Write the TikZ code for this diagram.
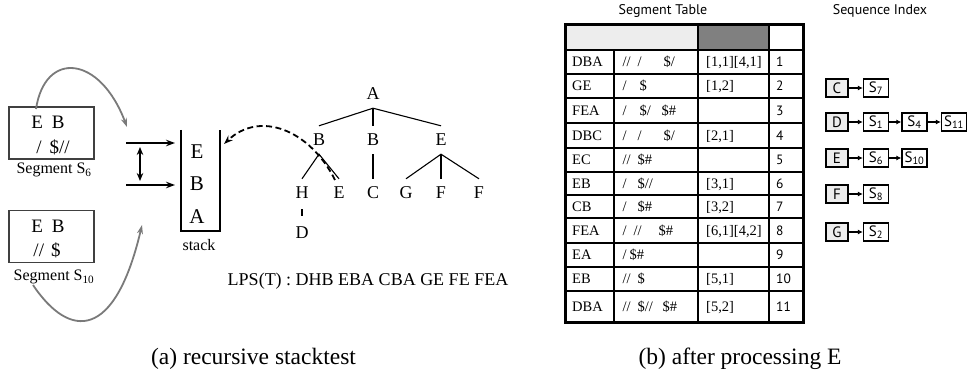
\documentclass[tikz,border=0pt]{standalone}
\usepackage{fontspec}
\setmainfont{Liberation Serif}
\newfontfamily\sansf{PT Sans}
\usetikzlibrary{arrows.meta}
% font size shortcut
\newcommand\fz[1]{\fontsize{#1}{#1}\selectfont}
% place a token at a horizontal offset from the start of a cell
\newcommand\tok[2]{\makebox[0pt][l]{\hspace*{#1pt}#2}}
\tikzset{
  treenode/.style={font=\fz{18}, inner sep=0pt, minimum height=28pt},
  treeline/.style={line width=1.1pt},
  grayarc/.style={draw=black!52, line width=1.8pt, -{Stealth[length=9pt,width=6pt]}},
  blackarrow/.style={line width=1.5pt, -{Stealth[length=9pt,width=6.5pt]}},
  dasharrow/.style={line width=1.8pt, dash pattern=on 6pt off 3.5pt, -{Stealth[length=9pt,width=6.5pt]}},
  segbox/.style={draw=black!75, line width=1.1pt, minimum width=85pt, minimum height=52pt, inner sep=0pt},
  segtext/.style={font=\fz{19}, inner sep=0pt},
  cell/.style={font=\fz{14.5}, anchor=base west, inner sep=0pt},
  num/.style={font=\sansf\fz{13.5}, anchor=base west, inner sep=0pt},
  keybox/.style={draw, line width=1.3pt, fill=black!7, minimum width=22pt, minimum height=18pt, inner sep=0pt, font=\sansf\fz{15}},
  sbox/.style={draw, line width=1.3pt, fill=white, minimum width=25pt, minimum height=18pt, inner sep=0pt, font=\sansf\fz{15}},
  idxarrow/.style={line width=1.3pt, -{Latex[length=5pt,width=5pt]}},
  caption/.style={font=\fz{23.5}, inner sep=0pt}
}
\begin{document}
\begin{tikzpicture}[x=1pt,y=-1pt]
\useasboundingbox (0,0) rectangle (967,379);

% ---------- (a) segments ----------
\node[segbox] (seg6) at (51.5,133) {};
\node[segtext] (s6a) at (48,122) {E\hspace{9pt}B};
\node[segtext] (s6b) at (53,147) {/\hspace{8pt}\$//};
\node[font=\fz{16}, inner sep=0pt] (lab6) at (54,170) {Segment S\textsubscript{6}};

\node[segbox] (seg10) at (51.5,236.5) {};
\node[segtext] (s10a) at (48,226) {E\hspace{9pt}B};
\node[segtext] (s10b) at (47,250) {//\hspace{7pt}\$};
\node[font=\fz{16}, inner sep=0pt] (lab10) at (54,277) {Segment S\textsubscript{10}};

% gray arcs from the segments towards the stack
\coordinate (u0) at (36,109);
\coordinate (u1) at (127,127);
\coordinate (l0) at (33,285);
\coordinate (l1) at (142,225);
\draw[grayarc] (u0) .. controls (45,50) and (100,55) .. (u1);
\draw[grayarc] (l0) .. controls (70,340) and (115,340) .. (l1);

% push arrows
\coordinate (h1s) at (126,143);
\coordinate (h1e) at (175,143);
\coordinate (h2s) at (126,185);
\coordinate (h2e) at (175,185);
\draw[blackarrow] (h1s) -- (h1e);
\draw[blackarrow] (h2s) -- (h2e);
\coordinate (v1) at (140,147);
\coordinate (v2) at (140,181);
\draw[line width=1.5pt, {Stealth[length=8pt,width=6.5pt]}-{Stealth[length=8pt,width=6.5pt]}] (v1) -- (v2);

% stack
\draw[line width=1.1pt] (181,130) -- (181,231) -- (220,231) -- (220,130);
\node[font=\fz{21}, inner sep=0pt] (stE) at (197,152) {E};
\node[font=\fz{21}, inner sep=0pt] (stB) at (197,184) {B};
\node[font=\fz{21}, inner sep=0pt] (stA) at (197,217) {A};
\node[font=\fz{16}, inner sep=0pt] (stk) at (199,245) {stack};

% ---------- tree ----------
\node[treenode] (tA)  at (373,94)  {A};
\node[treenode] (tB1) at (319,140) {B};
\node[treenode] (tB2) at (373,140) {B};
\node[treenode] (tE1) at (441,140) {E};
\node[treenode] (tH)  at (302,193) {H};
\node[treenode] (tE2) at (339,193) {E};
\node[treenode] (tC)  at (373,193) {C};
\node[treenode] (tG)  at (406,193) {G};
\node[treenode] (tF1) at (441,193) {F};
\node[treenode] (tF2) at (479,193) {F};
\node[treenode] (tD)  at (302,233) {D};
\draw[treeline] (tB1.north) -- (tA.south) -- (tE1.north);
\draw[treeline] (tA.south) -- (tB2.north);
\draw[treeline] (tH.north) -- (tB1.south) -- (tE2.north);
\draw[treeline] (tB2.south) -- (tC.north);
\draw[treeline] (tG.north) -- (tE1.south) -- (tF2.north);
\draw[treeline] (tE1.south) -- (tF1.north);
\draw[treeline] ([yshift=-2pt]tH.south) -- ([yshift=3pt]tD.north);

% dashed return to the stack
\coordinate (d0) at (335,180);
\coordinate (d1) at (224,144);
\draw[dasharrow] (d0) .. controls (310,130) and (260,110) .. (d1);

\node[font=\fz{18}, inner sep=0pt] (lps) at (368,281) {LPS(T) : DHB EBA CBA GE FE FEA};

% ---------- (b) segment table ----------
\node[font=\sansf\fz{14}, inner sep=0pt] (ttl) at (663,11) {Segment Table};
\fill[black!7]  (565,25) rectangle (698,50);
\fill[black!50] (698,25) rectangle (769,50);
\foreach \yy in {50,74,98,123,148,172,195,218,243,267,291}
  \draw[line width=1.6pt] (565,\yy) -- (803,\yy);
\draw[line width=1.6pt] (614,50) -- (614,323);
\foreach \xx in {698,769}
  \draw[line width=1.6pt] (\xx,25) -- (\xx,323);
\draw[line width=3pt] (565,25) rectangle (803,323);

\foreach \yc/\ka/\kb/\kc [count=\i] in {
  62/DBA/{\tok{0}{//}\tok{15}{/}\tok{41}{\$/}}/{[1,1][4,1]},
  86/GE/{\tok{0}{/}\tok{17}{\$}}/{[1,2]},
  110.5/FEA/{\tok{0}{/}\tok{17}{\$/}\tok{39}{\$\#}}/{},
  135.5/DBC/{\tok{0}{/}\tok{15}{/}\tok{41}{\$/}}/{[2,1]},
  160/EC/{\tok{0}{//}\tok{15}{\$\#}}/{},
  183.5/EB/{\tok{0}{/}\tok{15}{\$//}}/{[3,1]},
  206.5/CB/{\tok{0}{/}\tok{15}{\$\#}}/{[3,2]},
  230.5/FEA/{\tok{0}{/}\tok{11}{//}\tok{36}{\$\#}}/{[6,1][4,2]},
  255/EA/{\tok{0}{/}\tok{7}{\$\#}}/{},
  279/EB/{\tok{0}{//}\tok{15}{\$}}/{[5,1]},
  307/DBA/{\tok{0}{//}\tok{15}{\$//}\tok{40}{\$\#}}/{[5,2]}}
{
  \node[cell] (ka\i) at (572,\yc+5) {\ka};
  \node[cell] (kb\i) at (622,\yc+5) {\kb};
  \node[cell] (kc\i) at (706,\yc+5) {\kc};
  \node[num]  (kn\i) at (776,\yc+5) {\i};
}

% ---------- (b) sequence index ----------
\node[font=\sansf\fz{14}, inner sep=0pt] (sqt) at (880,11) {Sequence Index};

\node[keybox] (iC) at (837,88) {C};
\node[sbox] (iC1) at (876,88) {S\textsubscript{7}};
\draw[idxarrow] (iC) -- (iC1);

\node[keybox] (iD) at (837,122) {D};
\node[sbox] (iD1) at (876,122) {S\textsubscript{1}};
\node[sbox] (iD2) at (914.5,122) {S\textsubscript{4}};
\node[sbox] (iD3) at (954,122) {S\textsubscript{11}};
\draw[idxarrow] (iD) -- (iD1);
\draw[idxarrow] (iD1) -- (iD2);
\draw[idxarrow] (iD2) -- (iD3);

\node[keybox] (iE) at (837,158) {E};
\node[sbox] (iE1) at (876,158) {S\textsubscript{6}};
\node[sbox] (iE2) at (914.5,158) {S\textsubscript{10}};
\draw[idxarrow] (iE) -- (iE1);
\draw[idxarrow] (iE1) -- (iE2);

\node[keybox] (iF) at (837,194) {F};
\node[sbox] (iF1) at (876,194) {S\textsubscript{8}};
\draw[idxarrow] (iF) -- (iF1);

\node[keybox] (iG) at (837,232) {G};
\node[sbox] (iG1) at (876,232) {S\textsubscript{2}};
\draw[idxarrow] (iG) -- (iG1);

% ---------- captions ----------
\node[caption] (capa) at (253.5,359) {(a) recursive stacktest};
\node[caption] (capb) at (740,359) {(b) after processing E};
\end{tikzpicture}
\end{document}
